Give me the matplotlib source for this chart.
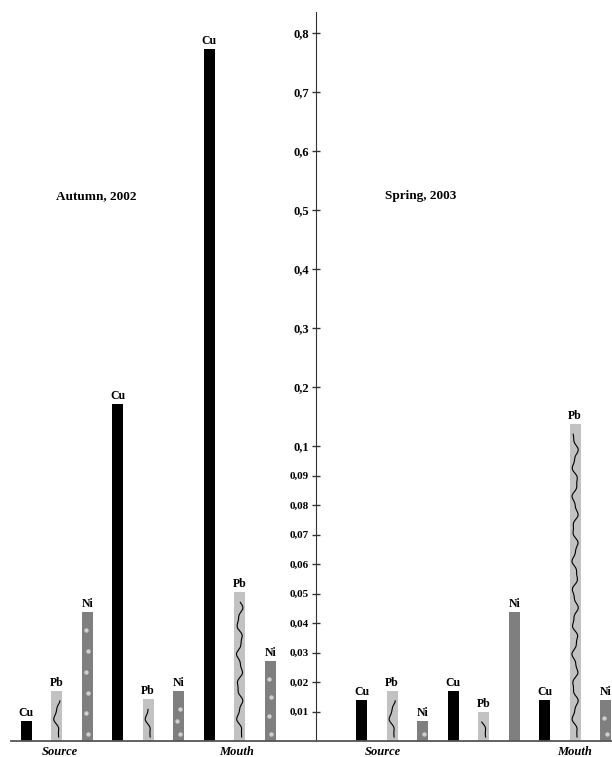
import numpy as np
import matplotlib
matplotlib.use('Agg')
import matplotlib.pyplot as plt

# data
metals = ['Cu', 'Pb', 'Ni', 'Cu', 'Pb', 'Ni', 'Cu', 'Pb', 'Ni']
autumn = [0.0068, 0.017, 0.0436, 0.171, 0.0141, 0.017, 0.773, 0.0504, 0.0272]
spring = [0.0139, 0.017, 0.0067, 0.017, 0.0098, 0.0436, 0.0139, 0.137, 0.0139]
autumn_pos = [0, 1, 2, 3, 4, 5, 6, 7, 8]
spring_pos = [11, 12, 13, 14, 15, 16, 17, 18, 19]
ni_dots = [6, 3, 4, 1, 0, 2]   # light dots drawn in the Ni bars
yticks = [0.01, 0.02, 0.03, 0.04, 0.05, 0.06, 0.07, 0.08, 0.09,
          0.1, 0.2, 0.3, 0.4, 0.5, 0.6, 0.7, 0.8]
ytick_labels = ['0,01', '0,02', '0,03', '0,04', '0,05', '0,06', '0,07', '0,08', '0,09',
                '0,1', '0,2', '0,3', '0,4', '0,5', '0,6', '0,7', '0,8']

colors = {'Cu': '#000000', 'Pb': '#c2c2c2', 'Ni': '#7f7f7f'}
serif = ['Liberation Serif', 'DejaVu Serif']


# axis is stretched below 0.1
def fwd(v):
    v = np.asarray(v, dtype=float)
    return np.where(v <= 0.1, v * 10, 1 + (v - 0.1) * 2.0)


def inv(t):
    t = np.asarray(t, dtype=float)
    return np.where(t <= 1, t / 10, 0.1 + (t - 1) / 2.0)


PX = 1 / 295.0  # scaled units per pixel

fig = plt.figure(figsize=(6.12, 7.57), dpi=100)
ax = fig.add_axes([11 / 612, 16 / 757, 1 - 11 / 612, 729 / 757])
ax.set_yscale('function', functions=(fwd, inv))
ax.set_xlim(-0.5, 19.21)
ax.set_ylim(0, float(inv(729 * PX)))

w = 0.36
ni_i = 0
for pos, vals in [(autumn_pos, autumn), (spring_pos, spring)]:
    for x, m, h in zip(pos, metals, vals):
        ax.bar(x, h, width=w, color=colors[m], zorder=2)
        ax.annotate(m, (x, h), xytext=(0, 1.5), textcoords='offset points',
                    ha='center', va='bottom', fontsize=8.5, fontweight='bold',
                    family=serif)
        top = float(fwd(h))
        if m == 'Pb':
            t = np.linspace(4 * PX, top - 10 * PX, 200)
            p = t / PX
            xx = x + 0.08 * np.sin(p / 5.0) + 0.025 * np.sin(p / 2.1 + 1)
            ax.plot(xx, inv(t), color='black', lw=0.8, zorder=3)
        if m == 'Ni':
            n = ni_dots[ni_i]
            ni_i += 1
            if n > 0:
                t = np.linspace(7 * PX, top - 18 * PX, n) if n > 1 else np.array([7 * PX])
                xx = x + 0.04 * np.array([(-1) ** k for k in range(n)])
                ax.scatter(xx, inv(t), s=10, color='#cfcfcf', zorder=3, linewidths=0)

# texts
ax.text(2.3, 0.524, 'Autumn, 2002', ha='center', va='center', fontsize=9.5,
        fontweight='bold', family=serif)
ax.text(12.95, 0.524, 'Spring, 2003', ha='center', va='center', fontsize=9.5,
        fontweight='bold', family=serif)
for x, s in [(1.1, 'Source'), (6.9, 'Mouth'), (11.7, 'Source'), (18.0, 'Mouth')]:
    ax.text(x, -0.007, s, transform=ax.get_xaxis_transform(), ha='center', va='top',
            fontsize=9, fontweight='bold', style='italic', family=serif, clip_on=False)

ax.spines['left'].set_position(('data', 9.5))
ax.spines['left'].set_color('#333333')
ax.spines['bottom'].set_color('#555555')
ax.spines['bottom'].set_linewidth(1.3)
ax.spines['top'].set_visible(False)
ax.spines['right'].set_visible(False)
ax.set_xticks([])
ax.set_yticks(yticks)
ax.set_yticklabels(ytick_labels, fontweight='bold', family=serif)
for lab, v in zip(ax.get_yticklabels(), yticks):
    lab.set_fontsize(9 if v >= 0.1 else 8)
ax.yaxis.set_minor_locator(matplotlib.ticker.NullLocator())
ax.tick_params(axis='y', direction='inout', length=6, width=1, color='#333333', pad=2)

fig.savefig('out.png', dpi=100)
